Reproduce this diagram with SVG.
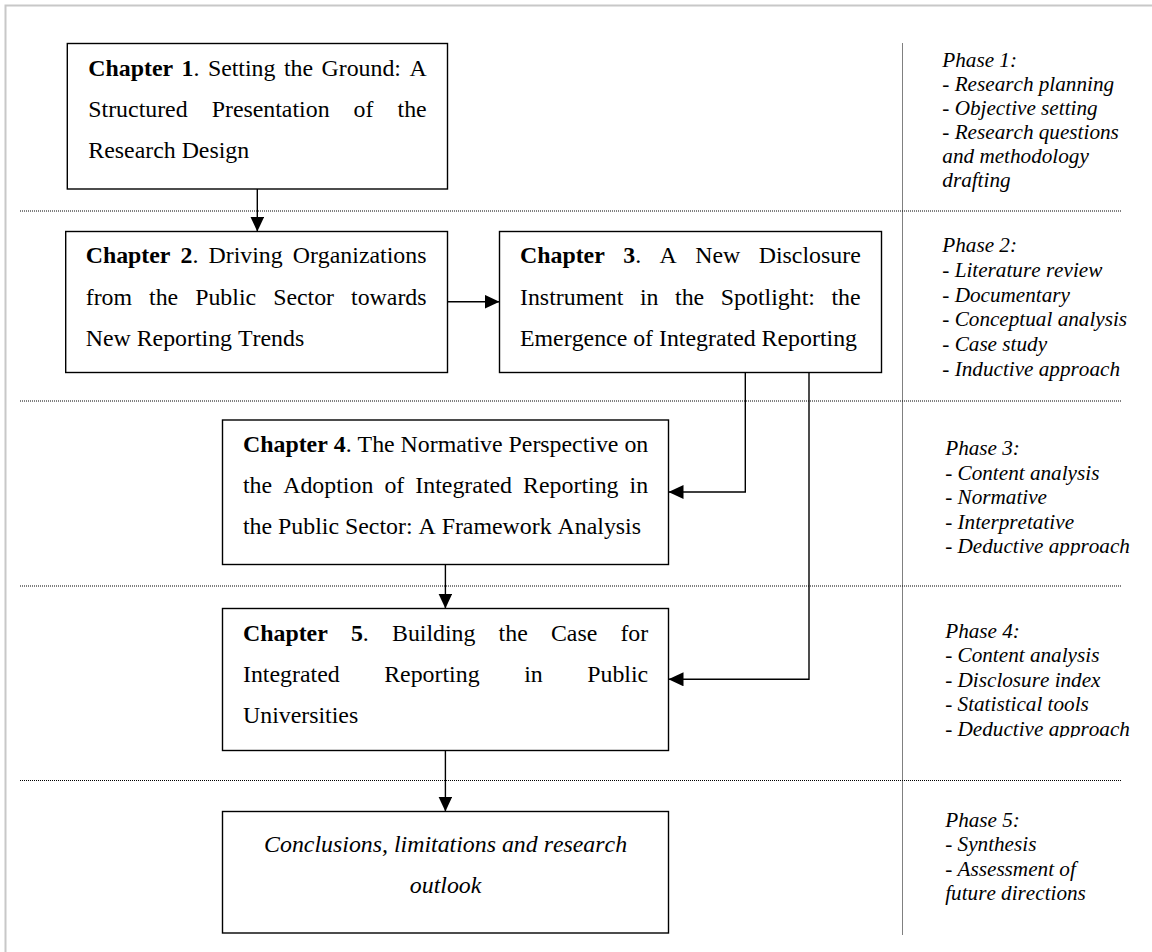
<svg xmlns="http://www.w3.org/2000/svg" width="1152" height="952" viewBox="0 0 1152 952">
<style>
.box{fill:#fff;stroke:#000;stroke-width:1.4}
.t{font-family:"Liberation Serif","Times New Roman",serif;font-size:23.85px;fill:#000;font-kerning:none}
.b{font-weight:bold}
.ph{font-family:"Liberation Serif","Times New Roman",serif;font-size:21.2px;font-style:italic;fill:#000;font-kerning:none}
.dot{stroke:#000;stroke-width:1;stroke-dasharray:1 1;fill:none}
.con{stroke:#000;stroke-width:1.4;fill:none}
</style>
<defs>
<marker id="ah" viewBox="0 0 15 14" markerWidth="15" markerHeight="14" refX="15" refY="7" orient="auto" markerUnits="userSpaceOnUse">
<path d="M0,0 L15,7 L0,14 Z" fill="#000"/>
</marker>
<clipPath id="clip3"><rect x="930" y="530" width="222" height="25.5"/></clipPath>
<clipPath id="clip4"><rect x="930" y="712" width="222" height="25.5"/></clipPath>
</defs>
<rect width="1152" height="952" fill="#fff"/>
<g id="frame">
<path d="M5.5,952 V5.5 H1152" fill="none" stroke="#c8c8c8" stroke-width="2"/>
</g>
<g id="grid">
<line class="dot" x1="20" y1="211" x2="1121" y2="211"/>
<line class="dot" x1="20" y1="401" x2="1121" y2="401"/>
<line class="dot" x1="20" y1="586" x2="1121" y2="586"/>
<line class="dot" x1="20" y1="780.5" x2="1121" y2="780.5"/>
<line class="dot" x1="902.5" y1="43.5" x2="902.5" y2="935"/>
</g>
<g id="connectors">
<line class="con" x1="257.3" y1="189" x2="257.3" y2="231.5" marker-end="url(#ah)"/>
<line class="con" x1="447.5" y1="301.7" x2="499.5" y2="301.7" marker-end="url(#ah)"/>
<path class="con" d="M745.3,372.5 V492 H668.5" marker-end="url(#ah)"/>
<path class="con" d="M809,372.5 V679.3 H668.5" marker-end="url(#ah)"/>
<line class="con" x1="445.4" y1="564.5" x2="445.4" y2="608.5" marker-end="url(#ah)"/>
<line class="con" x1="445.4" y1="750.5" x2="445.4" y2="811.5" marker-end="url(#ah)"/>
</g>
<g id="chapter1">
<rect class="box" x="67.3" y="43.5" width="380.2" height="145.5"/>
<text class="t" x="88.3" y="75.7" word-spacing="2.5"><tspan class="b">Chapter 1</tspan>. Setting the Ground: A</text>
<text class="t" x="88.3" y="116.9" word-spacing="18.1">Structured Presentation of the</text>
<text class="t" x="88.3" y="158.2">Research Design</text>
</g>
<g id="chapter2">
<rect class="box" x="65.7" y="231.5" width="381.8" height="141"/>
<text class="t" x="85.7" y="263.4" word-spacing="4.1"><tspan class="b">Chapter 2</tspan>. Driving Organizations</text>
<text class="t" x="85.7" y="304.5" word-spacing="11.05">from the Public Sector towards</text>
<text class="t" x="85.7" y="345.5">New Reporting Trends</text>
</g>
<g id="chapter3">
<rect class="box" x="499.5" y="231.5" width="382" height="141"/>
<text class="t" x="520" y="263.4" word-spacing="12.5"><tspan class="b">Chapter 3</tspan>. A New Disclosure</text>
<text class="t" x="520" y="304.7" word-spacing="10.65">Instrument in the Spotlight: the</text>
<text class="t" x="520" y="345.7">Emergence of Integrated Reporting</text>
</g>
<g id="chapter4">
<rect class="box" x="222.5" y="420" width="446" height="144.5"/>
<text class="t" x="243" y="451.8"><tspan class="b">Chapter 4</tspan>. The Normative Perspective on</text>
<text class="t" x="243" y="493" word-spacing="5.14">the Adoption of Integrated Reporting in</text>
<text class="t" x="243" y="534">the Public Sector: A Framework Analysis</text>
</g>
<g id="chapter5">
<rect class="box" x="222.5" y="608.5" width="446" height="142"/>
<text class="t" x="243" y="641" word-spacing="17.2"><tspan class="b">Chapter 5</tspan>. Building the Case for</text>
<text class="t" x="243" y="682.2" word-spacing="38.6">Integrated Reporting in Public</text>
<text class="t" x="243" y="723.3">Universities</text>
</g>
<g id="conclusions">
<rect class="box" x="222.5" y="811.5" width="446" height="121.5"/>
<text class="t" x="445.6" y="851.7" text-anchor="middle" font-style="italic">Conclusions, limitations and research</text>
<text class="t" x="445.6" y="893.3" text-anchor="middle" font-style="italic">outlook</text>
</g>
<g id="phase1">
<text class="ph" x="942.3" y="66.8">Phase 1:</text>
<text class="ph" x="942.3" y="90.9">- Research planning</text>
<text class="ph" x="942.3" y="115">- Objective setting</text>
<text class="ph" x="942.3" y="139.1">- Research questions</text>
<text class="ph" x="942.3" y="163.2">and methodology</text>
<text class="ph" x="942.3" y="187.2">drafting</text>
</g>
<g id="phase2">
<text class="ph" x="942.3" y="252.3">Phase 2:</text>
<text class="ph" x="942.3" y="277">- Literature review</text>
<text class="ph" x="942.3" y="301.7">- Documentary</text>
<text class="ph" x="942.3" y="326.4">- Conceptual analysis</text>
<text class="ph" x="942.3" y="351.1">- Case study</text>
<text class="ph" x="942.3" y="376">- Inductive approach</text>
</g>
<g id="phase3">
<text class="ph" x="945.2" y="455">Phase 3:</text>
<text class="ph" x="945.2" y="479.6">- Content analysis</text>
<text class="ph" x="945.2" y="504.2">- Normative</text>
<text class="ph" x="945.2" y="528.8">- Interpretative</text>
<text class="ph" x="945.2" y="553.3" clip-path="url(#clip3)">- Deductive approach</text>
</g>
<g id="phase4">
<text class="ph" x="945.2" y="637.8">Phase 4:</text>
<text class="ph" x="945.2" y="662.3">- Content analysis</text>
<text class="ph" x="945.2" y="686.8">- Disclosure index</text>
<text class="ph" x="945.2" y="711.3">- Statistical tools</text>
<text class="ph" x="945.2" y="735.8" clip-path="url(#clip4)">- Deductive approach</text>
</g>
<g id="phase5">
<text class="ph" x="945.2" y="826.7">Phase 5:</text>
<text class="ph" x="945.2" y="851.1">- Synthesis</text>
<text class="ph" x="945.2" y="875.5">- Assessment of</text>
<text class="ph" x="945.2" y="899.9">future directions</text>
</g>
</svg>
